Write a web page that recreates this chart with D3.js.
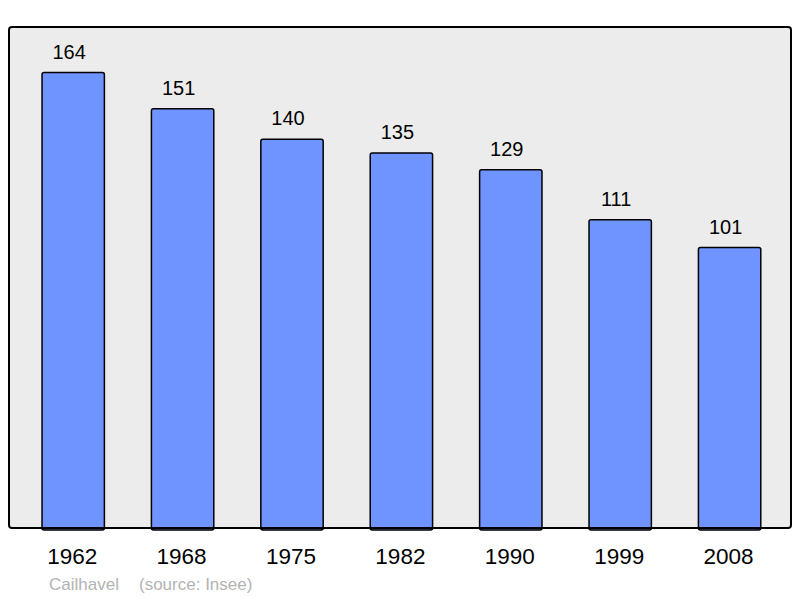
<!DOCTYPE html>
<html>
<head>
<meta charset="utf-8">
<script src="https://cdn.jsdelivr.net/npm/d3@7"></script>
<style>
  body { margin: 0; background: #fff; }
  text { font-family: "Liberation Sans", Arial, sans-serif; }
</style>
</head>
<body>
<svg id="chart" width="800" height="598"></svg>
<script>
// Population data
const years = ["1962", "1968", "1975", "1982", "1990", "1999", "2008"];
const population = [164, 151, 140, 135, 129, 111, 101];
const commune = "Cailhavel";
const source = "(source: Insee)";

const svg = d3.select("#chart");

// Plot frame
const frame = { left: 9, top: 27, right: 791, bottom: 528 };

const x = d3.scaleBand()
    .domain(years)
    .range([18.5, 784.3])
    .paddingInner(0.43)
    .paddingOuter(0.215);

const y = d3.scaleLinear()
    .domain([0, d3.max(population) * 1.1])
    .range([frame.bottom, frame.top]);

svg.append("rect")
    .attr("x", frame.left)
    .attr("y", frame.top)
    .attr("width", frame.right - frame.left)
    .attr("height", frame.bottom - frame.top)
    .attr("rx", 3)
    .attr("fill", "#ececec");

const rows = years.map((yr, i) => ({ yr, v: population[i] }));

// Bars
svg.append("g").selectAll("rect")
    .data(rows)
    .join("rect")
    .attr("x", d => x(d.yr))
    .attr("y", d => y(d.v))
    .attr("width", x.bandwidth())
    .attr("height", d => y(0) - y(d.v) + 2)
    .attr("rx", 2)
    .attr("fill", "#7094ff")
    .attr("stroke", "#000")
    .attr("stroke-width", 1.5);

// Value labels (sit a little left of bar centre, like the original)
svg.append("g").selectAll("text")
    .data(rows)
    .join("text")
    .attr("x", d => x(d.yr) + x.bandwidth() / 2 - 4)
    .attr("y", d => y(d.v) - 14)
    .attr("text-anchor", "middle")
    .attr("font-size", 20)
    .attr("fill", "#000")
    .text(d => d.v);

// Frame border on top
svg.append("rect")
    .attr("x", frame.left)
    .attr("y", frame.top)
    .attr("width", frame.right - frame.left)
    .attr("height", frame.bottom - frame.top)
    .attr("rx", 3)
    .attr("fill", "none")
    .attr("stroke", "#000")
    .attr("stroke-width", 2);

// Year labels
svg.append("g").selectAll("text")
    .data(years)
    .join("text")
    .attr("x", d => x(d) + x.bandwidth() / 2 - 1)
    .attr("y", 564)
    .attr("text-anchor", "middle")
    .attr("font-size", 22.5)
    .attr("fill", "#000")
    .text(d => d);

// Footer
svg.append("text")
    .attr("x", 49)
    .attr("y", 590)
    .attr("font-size", 17)
    .attr("fill", "#b3b3b3")
    .text(commune);

svg.append("text")
    .attr("x", 139)
    .attr("y", 590)
    .attr("font-size", 17)
    .attr("fill", "#b3b3b3")
    .text(source);
</script>
</body>
</html>
